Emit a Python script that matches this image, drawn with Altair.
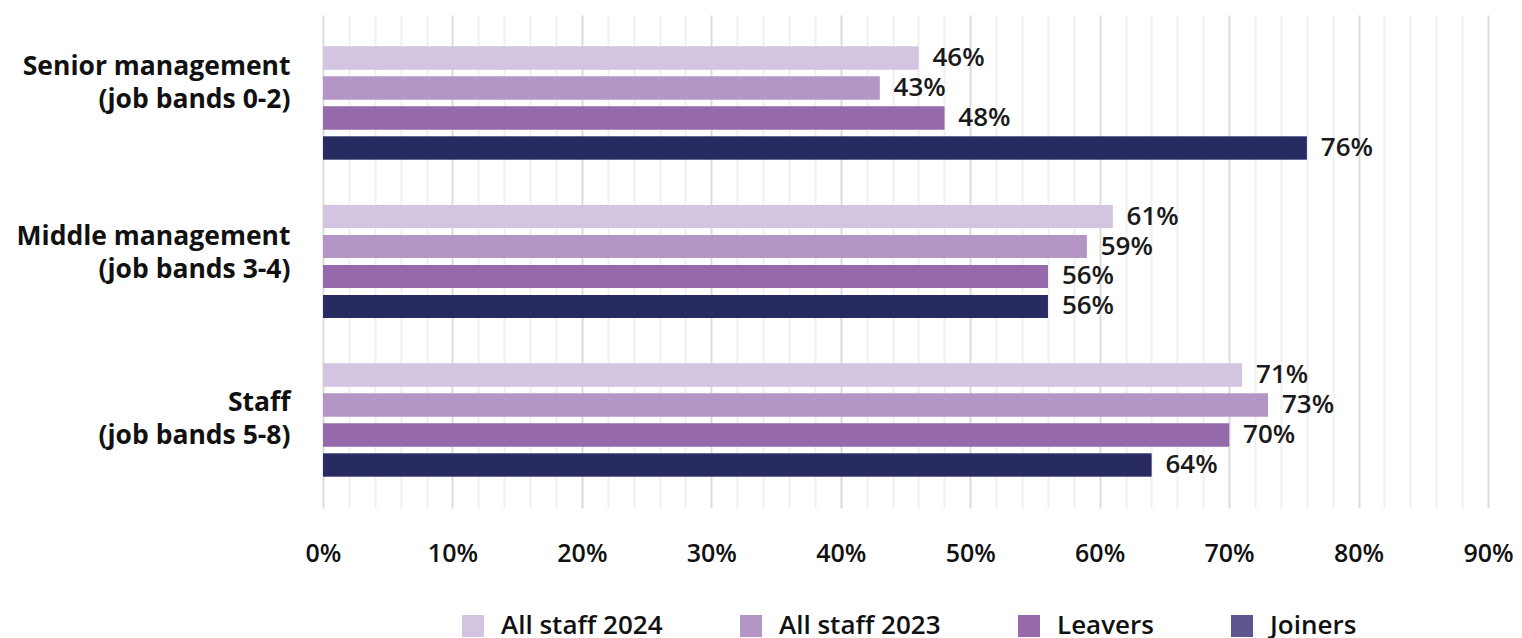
import altair as alt
import pandas as pd

groups = ["Senior management|(job bands 0-2)", "Middle management|(job bands 3-4)", "Staff|(job bands 5-8)"]
series = ["All staff 2024", "All staff 2023", "Leavers", "Joiners"]
all_staff_2024 = [46, 61, 71]
all_staff_2023 = [43, 59, 73]
leavers = [48, 56, 70]
joiners = [76, 56, 64]
colors = ["#D3C4E1", "#B396C6", "#9669AA", "#282A62"]
legend_colors = ["#D3C4E1", "#B396C6", "#9669AA", "#5F5690"]
x_ticks = list(range(0, 91, 2))

rows = []
for s, vals in zip(series, [all_staff_2024, all_staff_2023, leavers, joiners]):
    for g, v in zip(groups, vals):
        rows.append({"group": g, "series": s, "value": v, "label": f"{v}%"})
df = pd.DataFrame(rows)

FONT = "Open Sans"

y_label_offset = {
    "condition": [
        {"test": f"datum.value === '{groups[0]}'", "value": -36},
        {"test": f"datum.value === '{groups[1]}'", "value": -25},
    ],
    "value": -17,
}

y = alt.Y(
    "group:N", sort=groups,
    scale=alt.Scale(paddingInner=0.243, paddingOuter=0.177),
    axis=alt.Axis(title=None, labelExpr="split(datum.label, '|')", ticks=False, domain=False,
                  labelPadding=33, labelFontSize=26.5, labelFontWeight="bold", labelLineHeight=33,
                  labelColor="#111111", labelFont=FONT, labelLimit=500, labelOffset=y_label_offset),
)
yoff = alt.YOffset("series:N", sort=series, scale=alt.Scale(paddingInner=0.233, paddingOuter=0.117))
x = alt.X(
    "value:Q", scale=alt.Scale(domain=[0, 90], nice=False),
    axis=alt.Axis(values=x_ticks, tickCount=len(x_ticks), title=None, ticks=False, domain=False,
                  labelExpr="datum.value % 10 === 0 ? datum.value + '%' : ''",
                  labelOverlap=False, labelFlush=False,
                  gridColor={"condition": {"test": "datum.value % 10 === 0", "value": "#DCDCDC"}, "value": "#F0F0F0"},
                  gridWidth=2, labelPadding=33, labelFontSize=25, labelFontWeight=600,
                  labelColor="#111111", labelFont=FONT),
)

legend = alt.Legend(
    orient="none", legendX=137, legendY=598, direction="horizontal", title=None, padding=0,
    symbolType="square", symbolSize=484, symbolStrokeWidth=0,
    labelFontSize=26, labelFontWeight=600, labelFont=FONT, labelLimit=400,
    labelColor="#111111", columnPadding=75, labelOffset=15,
)

# bottom layer: same bars, hidden under the real ones, carrying the legend with its own swatch colours
legend_layer = alt.Chart(df).mark_bar(strokeWidth=0).encode(
    x=x, y=y, yOffset=yoff,
    color=alt.Color("series:N", sort=series, scale=alt.Scale(domain=series, range=legend_colors), legend=legend),
)

bars = alt.Chart(df).mark_bar().encode(
    x="value:Q", y=alt.Y("group:N", sort=groups), yOffset=alt.YOffset("series:N", sort=series),
    color=alt.Color("series:N", sort=series, scale=alt.Scale(domain=series, range=colors), legend=None),
)

text = alt.Chart(df).mark_text(align="left", baseline="middle", dx=14, fontSize=26,
                               fontWeight=600, font=FONT, color="#1a1a1a").encode(
    x="value:Q", y=alt.Y("group:N", sort=groups), yOffset=alt.YOffset("series:N", sort=series),
    text="label:N",
)

chart = (legend_layer + bars + text).resolve_scale(color="independent").properties(
    width=1165, height=493,
    autosize=alt.AutoSizeParams(type="none"),
    padding={"left": 323, "top": 15, "right": 34, "bottom": 130},
).configure_view(stroke=None)

chart.save("out.html", embed_options={"renderer": "svg", "actions": False})
